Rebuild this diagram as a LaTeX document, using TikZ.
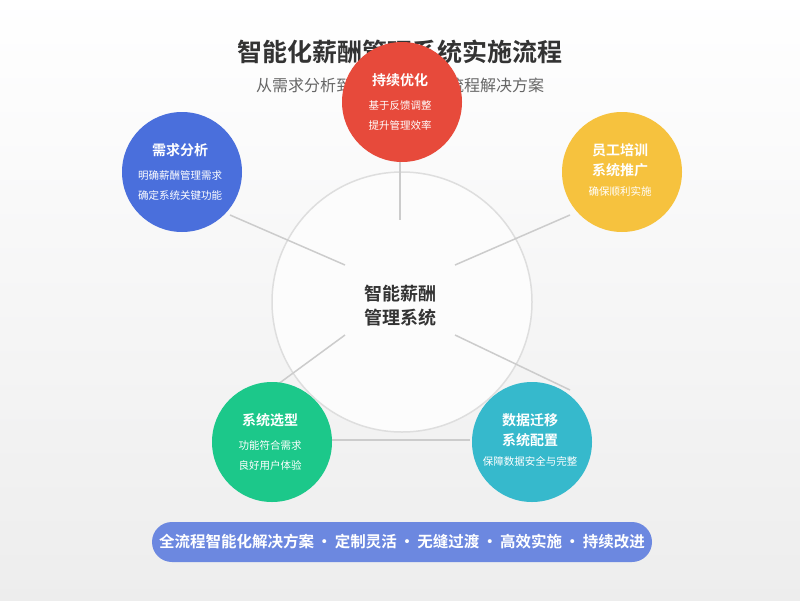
\documentclass[tikz,border=0pt]{standalone}
\usepackage{fontspec}
\setmainfont{Noto Sans CJK SC}
\newfontfamily\cjkb{Noto Sans CJK SC Bold}
\begin{document}
\begin{tikzpicture}[x=1pt,y=-1pt,
  conn/.style={draw=black!20,line width=1.5pt},
  stage/.style={circle,minimum size=120pt,inner sep=0pt,text=white,align=center},
  ttl/.style={font=\cjkb\fontsize{14}{20}\selectfont},
  sub/.style={font=\fontsize{10.5}{20}\selectfont}]
\shade[top color=white!96!blue!2,bottom color=black!7] (0,0) rectangle (800,600);
\useasboundingbox (0,0) rectangle (800,600);
\node (title) at (400,52) {\cjkb\fontsize{25}{28}\selectfont\color{black!80}智能化薪酬管理系统实施流程};
\node (subtitle) at (400,85) {\fontsize{16}{20}\selectfont\color{black!60}从需求分析到系统上线的全流程解决方案};
\node[circle,minimum size=260pt,fill=white!60!black!3,draw=black!13,line width=1.5pt] (hub) at (402,302) {};
\node[align=center,text=black!80,font=\cjkb\fontsize{18}{24}\selectfont] (hubt) at (400,306) {智能薪酬\\管理系统};
\coordinate (a1) at (400,160); \coordinate (a2) at (400,220);
\coordinate (b1) at (455,265); \coordinate (b2) at (570,215);
\coordinate (c1) at (455,335); \coordinate (c2) at (570,390);
\coordinate (d1) at (330,440); \coordinate (d2) at (470,440);
\coordinate (e1) at (345,335); \coordinate (e2) at (270,390);
\coordinate (f1) at (230,215); \coordinate (f2) at (345,265);
\draw[conn] (a1)--(a2); \draw[conn] (b1)--(b2); \draw[conn] (c1)--(c2);
\draw[conn] (d1)--(d2); \draw[conn] (e1)--(e2); \draw[conn] (f1)--(f2);
\node[stage,fill={rgb,255:red,74;green,111;blue,220}] (s1) at (182,172) {};
\node[ttl,text=white] at (180,150) {需求分析};
\node[sub,text=white,align=center] at (180,186) {明确薪酬管理需求\\确定系统关键功能};
\node[stage,fill={rgb,255:red,231;green,74;blue,59}] (s2) at (402,102) {};
\node[ttl,text=white] at (400,80) {持续优化};
\node[sub,text=white,align=center] at (400,116) {基于反馈调整\\提升管理效率};
\node[stage,fill={rgb,255:red,246;green,194;blue,62}] (s3) at (622,172) {};
\node[ttl,text=white,align=center] at (620,160) {员工培训\\系统推广};
\node[sub,text=white] at (620,191) {确保顺利实施};
\node[stage,fill={rgb,255:red,28;green,200;blue,138}] (s4) at (272,442) {};
\node[ttl,text=white] at (270,420) {系统选型};
\node[sub,text=white,align=center] at (270,456) {功能符合需求\\良好用户体验};
\node[stage,fill={rgb,255:red,54;green,185;blue,204}] (s5) at (532,442) {};
\node[ttl,text=white,align=center] at (530,430) {数据迁移\\系统配置};
\node[sub,text=white] at (530,461) {保障数据安全与完整};
\node[rounded corners=20pt,minimum width=500pt,minimum height=40pt,inner xsep=0pt,fill={rgb,255:red,108;green,136;blue,224},text=white,font=\cjkb\fontsize{15.5}{20}\selectfont] (bar) at (402,542) {全流程智能化解决方案\,·\,定制灵活\,·\,无缝过渡\,·\,高效实施\,·\,持续改进};
\end{tikzpicture}
\end{document}
